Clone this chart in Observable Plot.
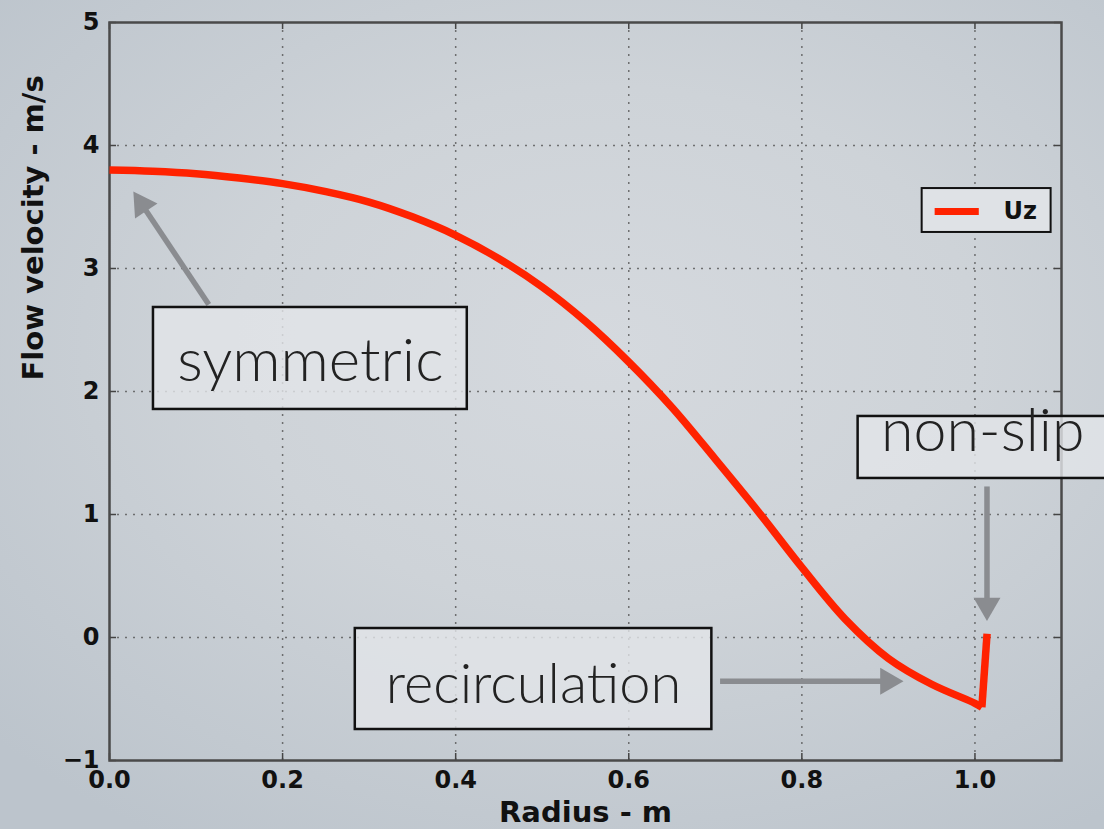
<!DOCTYPE html>
<html>
<head>
<meta charset="utf-8">
<script src="https://cdn.jsdelivr.net/npm/d3@7"></script>
<script src="https://cdn.jsdelivr.net/npm/@observablehq/plot@0.6"></script>
<style>
  html, body { margin: 0; padding: 0; }
  body {
    width: 1104px; height: 829px; overflow: hidden;
    background: radial-gradient(ellipse 75% 70% at 55% 42%, #d5d9de 0%, #ced3d8 45%, #bcc4cc 100%);
  }
  #chart svg { display: block; background: transparent; }
</style>
</head>
<body>
<div id="chart"></div>
<script>
// Series: axial flow velocity Uz vs radius
const radius = [0, 0.05, 0.1, 0.15, 0.2, 0.25, 0.3, 0.35, 0.4, 0.45, 0.5, 0.55, 0.6, 0.65, 0.7, 0.75, 0.8, 0.85, 0.9, 0.95, 1.0, 1.008, 1.014];
const uz     = [3.80, 3.79, 3.77, 3.735, 3.69, 3.625, 3.54, 3.42, 3.27, 3.08, 2.85, 2.57, 2.24, 1.87, 1.45, 1.02, 0.57, 0.15, -0.17, -0.38, -0.535, -0.567, 0.03];

// Axis ticks
const xTicks = [0, 0.2, 0.4, 0.6, 0.8, 1.0];
const yTicks = [-1, 0, 1, 2, 3, 4, 5];
const xLabel = "Radius - m";
const yLabel = "Flow velocity - m/s";
const seriesName = "Uz";

// Annotations (data coordinates)
const noteLabels = ["symmetric", "recirculation", "non-slip"];
const noteX1 = [0.0508, 0.284, 0.865];
const noteX2 = [0.4134, 0.696, 1.16];
const noteY1 = [1.854, -0.748, 1.293];
const noteY2 = [2.683, 0.073, 1.797];
const noteTX = [0.232, 0.490, 1.009];
const noteTY = [2.24, -0.39, 1.667];

// Arrows: tail, head centre, rotation of head
const arrowX1 = [0.1147, 0.7055, 1.0139];
const arrowY1 = [2.707, -0.355, 1.228];
const arrowX2 = [0.0375, 0.8995, 1.0139];
const arrowY2 = [3.520, -0.355, 0.26];
const arrowRot = [-33.7, 90, 180];

// Legend box (data coordinates)
const legendBox = {x1: 0.939, x2: 1.088, y1: 3.293, y2: 3.650};
const legendLine = {x1: 0.954, x2: 1.005, y: 3.463};
const legendText = {x: 1.0716, y: 3.463};

const data = radius.map((r, i) => ({r, u: uz[i]}));
const n = data.length;
const smoothPart = data.slice(0, n - 1);   // smooth profile up to the wall corner
const wallPart = data.slice(n - 2);        // sharp rise at the wall
const notes = noteLabels.map((label, i) => ({label, x1: noteX1[i], x2: noteX2[i], y1: noteY1[i], y2: noteY2[i], tx: noteTX[i], ty: noteTY[i]}));
const arrows = arrowX1.map((x1, i) => ({x1, y1: arrowY1[i], x2: arrowX2[i], y2: arrowY2[i], rot: arrowRot[i]}));

const noteFont = {"symmetric": 60, "recirculation": 56, "non-slip": 59};
const tickLenX = 7 / 866, tickLenY = 7 / 123;
const tickFont = {fontSize: 24, fontWeight: "bold", fontFamily: "DejaVu Sans"};
const red = "#ff2200";

const plot = Plot.plot({
  width: 1104,
  height: 829,
  marginLeft: 109,
  marginRight: 43,
  marginTop: 22,
  marginBottom: 69,
  style: {background: "transparent", fontFamily: "DejaVu Sans", overflow: "visible"},
  x: {domain: [0, 1.1]},
  y: {domain: [-1, 5]},
  marks: [
    Plot.gridX(xTicks.filter(d => d > 0), {stroke: "#555", strokeOpacity: 0.8, strokeWidth: 1.5, strokeDasharray: "2,6"}),
    Plot.gridY(yTicks.filter(d => d > -1 && d < 5), {stroke: "#555", strokeOpacity: 0.8, strokeWidth: 1.5, strokeDasharray: "2,6"}),
    // inward ticks
    Plot.ruleX(xTicks, {y1: -1, y2: -1 + tickLenY, stroke: "#444", strokeWidth: 1.5}),
    Plot.ruleX(xTicks, {y1: 5, y2: 5 - tickLenY, stroke: "#444", strokeWidth: 1.5}),
    Plot.ruleY(yTicks, {x1: 0, x2: tickLenX, stroke: "#444", strokeWidth: 1.5}),
    Plot.ruleY(yTicks, {x1: 1.1, x2: 1.1 - tickLenX, stroke: "#444", strokeWidth: 1.5}),
    Plot.frame({stroke: "#4a4a4a", strokeWidth: 2.5}),
    Plot.axisX(xTicks, {tickSize: 0, tickPadding: 10, tickFormat: d3.format(".1f"), label: null, ...tickFont, fill: "#111"}),
    Plot.axisY(yTicks, {tickSize: 0, tickPadding: 10, tickFormat: d => d3.format("")(d), label: null, ...tickFont, fill: "#111"}),
    Plot.text([xLabel], {frameAnchor: "bottom", dy: 52, lineAnchor: "middle", fontSize: 29, fontWeight: "bold", fill: "#111"}),
    Plot.text([yLabel], {frameAnchor: "left", dx: -76, dy: -11, rotate: -90, lineAnchor: "middle", fontSize: 29, fontWeight: "bold", fill: "#111"}),
    // series line
    Plot.line(smoothPart, {x: "r", y: "u", stroke: red, strokeWidth: 7.5, curve: "catmull-rom", strokeLinecap: "butt"}),
    Plot.line(wallPart, {x: "r", y: "u", stroke: red, strokeWidth: 7.5, curve: "linear", strokeLinecap: "butt"}),
    // legend
    Plot.rect([legendBox], {x1: "x1", x2: "x2", y1: "y1", y2: "y2", fill: "#dfe2e6", stroke: "#111", strokeWidth: 2}),
    Plot.ruleY([legendLine], {x1: "x1", x2: "x2", y: "y", stroke: red, strokeWidth: 7}),
    Plot.text([legendText], {x: "x", y: "y", text: () => seriesName, textAnchor: "end", lineAnchor: "middle", fontSize: 24, fontWeight: "bold", fill: "#111"}),
    // annotation arrows
    Plot.link(arrows, {x1: "x1", y1: "y1", x2: "x2", y2: "y2", stroke: "#8a8c90", strokeWidth: 5.5}),
    Plot.dot(arrows, {x: "x2", y: "y2", rotate: "rot", symbol: "triangle", r: 10, fill: "#8a8c90", stroke: "none"}),
    // annotation boxes
    Plot.rect(notes, {x1: "x1", x2: "x2", y1: "y1", y2: "y2", fill: "#e2e5e8", fillOpacity: 0.8, stroke: "#111", strokeWidth: 2.5}),
    Plot.text(notes, {x: "tx", y: "ty", text: "label", textAnchor: "middle", lineAnchor: "middle", fontSize: d => noteFont[d.label], fontFamily: "Lato", fontWeight: 300, fill: "#222"})
  ]
});
document.getElementById("chart").appendChild(plot);
</script>
</body>
</html>
